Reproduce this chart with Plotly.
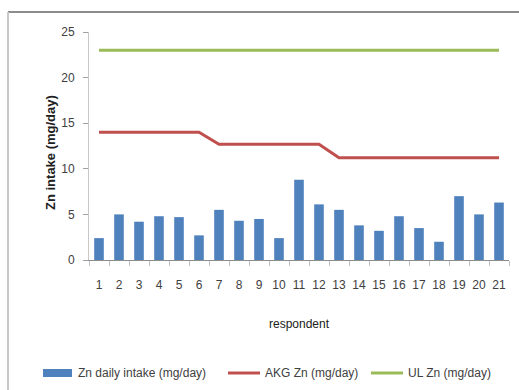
import plotly.graph_objects as go

# Respondent numbers and daily zinc intake (mg/day)
respondents = [str(i) for i in range(1, 22)]
zn_intake = [2.4, 5.0, 4.2, 4.8, 4.7, 2.7, 5.5, 4.3, 4.5, 2.4, 8.8,
             6.1, 5.5, 3.8, 3.2, 4.8, 3.5, 2.0, 7.0, 5.0, 6.3]
# Recommended intake (AKG) and upper limit (UL) per respondent
akg_zn = [14, 14, 14, 14, 14, 14, 12.7, 12.7, 12.7, 12.7, 12.7, 12.7,
          11.2, 11.2, 11.2, 11.2, 11.2, 11.2, 11.2, 11.2, 11.2]
ul_zn = [23] * 21

y_ticks = [0, 5, 10, 15, 20, 25]

BLUE = "#4F81BD"
RED = "#C0504D"
GREEN = "#9BBB59"
FONT = "Liberation Sans"

W, H = 519, 390
L, R, T, B = 89, 10, 32, 130
PW, PH = W - L - R, H - T - B


def px(x):
    return (x - L) / PW


def py(y):
    return (H - B - y) / PH


fig = go.Figure()
fig.add_trace(go.Bar(x=respondents, y=zn_intake, marker=dict(color=BLUE, line=dict(width=0)),
                     width=0.48, name="Zn daily intake (mg/day)", showlegend=False))
fig.add_trace(go.Scatter(x=respondents, y=akg_zn, mode="lines", line=dict(color=RED, width=3),
                         name="AKG Zn (mg/day)", showlegend=False))
fig.add_trace(go.Scatter(x=respondents, y=ul_zn, mode="lines", line=dict(color=GREEN, width=3),
                         name="UL Zn (mg/day)", showlegend=False))

shapes = [
    # chart frame (top and left edges)
    dict(type="line", xref="paper", yref="paper", x0=px(8), x1=px(530), y0=py(12), y1=py(12),
         line=dict(color="#8C8C8C", width=2)),
    dict(type="line", xref="paper", yref="paper", x0=px(8), x1=px(8), y0=py(12), y1=py(400),
         line=dict(color="#C8C8C8", width=2)),
    # legend keys
    dict(type="rect", xref="paper", yref="paper", x0=px(43), x1=px(72), y0=py(377), y1=py(369),
         fillcolor=BLUE, line=dict(width=0)),
    dict(type="line", xref="paper", yref="paper", x0=px(228), x1=px(260), y0=py(373), y1=py(373),
         line=dict(color=RED, width=3)),
    dict(type="line", xref="paper", yref="paper", x0=px(371), x1=px(403), y0=py(373), y1=py(373),
         line=dict(color=GREEN, width=3)),
]

legend_text = [
    (76, "Zn daily intake (mg/day)"),
    (263, "AKG Zn (mg/day)"),
    (406, "UL Zn (mg/day)"),
]
annotations = [
    dict(xref="paper", yref="paper", x=px(x), y=py(373), text=t, showarrow=False,
         xanchor="left", yanchor="middle", font=dict(family=FONT, size=12, color="#404040"))
    for x, t in legend_text
]
annotations += [
    dict(xref="paper", yref="paper", x=px(50), y=py(153), text="<b>Zn intake (mg/day)</b>",
         textangle=-90, showarrow=False, xanchor="center", yanchor="middle",
         font=dict(family=FONT, size=13, color="#202020")),
    dict(xref="paper", yref="paper", x=0.5, y=py(324), text="respondent", showarrow=False,
         xanchor="center", yanchor="middle", font=dict(family=FONT, size=12, color="#202020")),
]

fig.update_layout(
    width=W, height=H,
    margin=dict(l=L, r=R, t=T, b=B, pad=0),
    paper_bgcolor="white", plot_bgcolor="white",
    bargap=0.5,
    font=dict(family=FONT, size=12, color="#404040"),
    shapes=shapes, annotations=annotations,
    xaxis=dict(type="category", showgrid=False, zeroline=False, showline=True,
               linecolor="#8C8C8C", linewidth=1, tickangle=0,
               ticks="outside", tickson="boundaries", ticklen=5, tickcolor="#C0C0C0",
               ticklabelstandoff=14, tickfont=dict(size=12, color="#404040")),
    yaxis=dict(range=[0, 25], tickvals=y_ticks, showgrid=False, zeroline=False,
               showline=True, linecolor="#C8C8C8", linewidth=1,
               ticks="outside", ticklen=5, tickcolor="#A0A0A0",
               ticklabelstandoff=6, tickfont=dict(size=12, color="#404040")),
)

fig.write_html("out.html")
